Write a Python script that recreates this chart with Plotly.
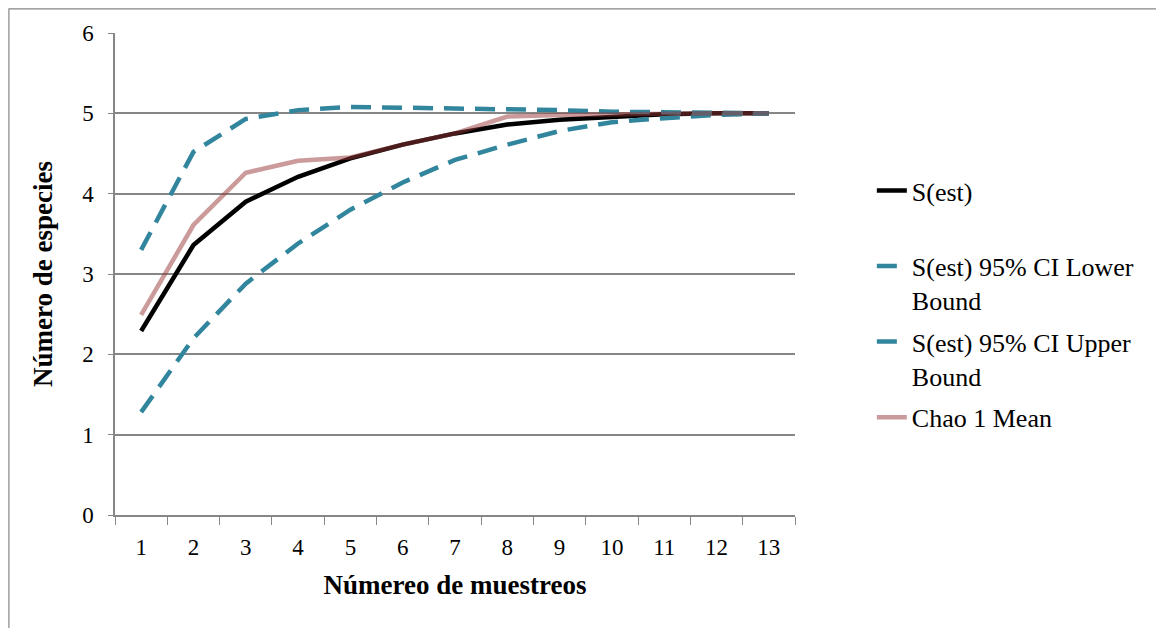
import plotly.graph_objects as go

muestreos = [str(i) for i in range(1, 14)]
s_est = [2.29, 3.36, 3.90, 4.21, 4.44, 4.61, 4.75, 4.86, 4.92, 4.96, 4.99, 5.00, 5.00]
ci_lower = [1.28, 2.20, 2.88, 3.38, 3.80, 4.14, 4.42, 4.61, 4.78, 4.89, 4.94, 4.98, 5.00]
ci_upper = [3.30, 4.52, 4.93, 5.04, 5.08, 5.07, 5.07, 5.05, 5.04, 5.02, 5.01, 5.00, 5.00]
chao1 = [2.49, 3.61, 4.26, 4.41, 4.45, 4.61, 4.75, 4.96, 4.98, 4.99, 5.00, 5.00, 5.00]

FONT = "Liberation Serif"
GRID = "#868686"
TEAL = "#31859C"

fig = go.Figure()
fig.add_trace(go.Scatter(x=muestreos, y=s_est, mode="lines", name="S(est)<br>\u00a0",
                         legendgroup="a", line=dict(color="black", width=4.5)))
fig.add_trace(go.Scatter(x=muestreos, y=ci_lower, mode="lines",
                         name="S(est) 95% CI Lower<br>Bound", legendgroup="b",
                         line=dict(color=TEAL, width=4.5, dash="20px,11px")))
fig.add_trace(go.Scatter(x=muestreos, y=ci_upper, mode="lines",
                         name="S(est) 95% CI Upper<br>Bound", legendgroup="c",
                         line=dict(color=TEAL, width=4.5, dash="20px,11px")))
fig.add_trace(go.Scatter(x=muestreos, y=chao1, mode="lines", name="Chao 1 Mean",
                         legendgroup="d",
                         line=dict(color="rgba(149,55,53,0.5)", width=4.5)))

fig.update_layout(
    width=1156, height=620,
    margin=dict(l=107, r=369, t=25, b=113),
    paper_bgcolor="white", plot_bgcolor="white",
    font=dict(family=FONT, size=23, color="black"),
    showlegend=True,
    legend=dict(x=1.113, y=0.722, xanchor="left", yanchor="top", valign="top",
                font=dict(family=FONT, size=26, color="black"),
                tracegroupgap=5, bgcolor="rgba(0,0,0,0)"),
    xaxis=dict(type="category", range=[-0.5, 12.5], tickson="boundaries",
               ticks="outside", ticklen=8, ticklabelstandoff=11,
               tickcolor=GRID, showline=True, linecolor=GRID, linewidth=1.5,
               showgrid=False, zeroline=False,
               tickfont=dict(family=FONT, size=23),
               title=dict(text="<b>Númereo de muestreos</b>", standoff=16,
                          font=dict(family=FONT, size=27))),
    yaxis=dict(range=[0, 6], dtick=1, ticks="outside", ticklen=5, tickcolor=GRID,
               ticklabelstandoff=10,
               showline=True, linecolor=GRID, linewidth=1.5,
               showgrid=True, gridcolor=GRID, gridwidth=1.5, zeroline=False,
               tickfont=dict(family=FONT, size=23),
               title=dict(text="<b>Número de especies</b>", standoff=22,
                          font=dict(family=FONT, size=27))),
    shapes=[dict(type="rect", xref="paper", yref="paper",
                 x0=-0.156, x1=1.6, y0=-0.3, y1=1.050,
                 line=dict(color=GRID, width=1.2), fillcolor="rgba(0,0,0,0)",
                 layer="below")],
)

fig.write_html("out.html")
